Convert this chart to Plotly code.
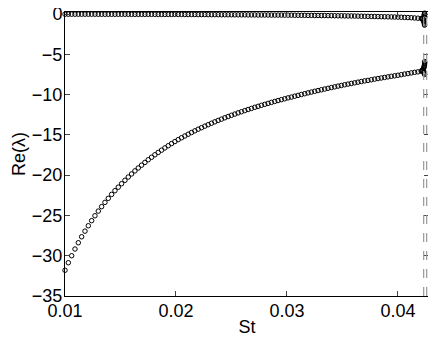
import plotly.graph_objects as go

# Strouhal numbers of the sampled points
st = [
    0.0100, 0.0103, 0.0106, 0.0109, 0.0112, 0.0115, 0.0118, 0.0121, 0.0124, 0.0127,
    0.0130, 0.0133, 0.0136, 0.0139, 0.0142, 0.0145, 0.0148, 0.0151, 0.0154, 0.0157,
    0.0160, 0.0163, 0.0166, 0.0169, 0.0172, 0.0175, 0.0178, 0.0181, 0.0184, 0.0187,
    0.0190, 0.0193, 0.0196, 0.0199, 0.0202, 0.0205, 0.0208, 0.0211, 0.0214, 0.0217,
    0.0220, 0.0223, 0.0226, 0.0229, 0.0232, 0.0235, 0.0238, 0.0241, 0.0244, 0.0247,
    0.0250, 0.0253, 0.0256, 0.0259, 0.0262, 0.0265, 0.0268, 0.0271, 0.0274, 0.0277,
    0.0280, 0.0283, 0.0286, 0.0289, 0.0292, 0.0295, 0.0298, 0.0301, 0.0304, 0.0307,
    0.0310, 0.0313, 0.0316, 0.0319, 0.0322, 0.0325, 0.0328, 0.0331, 0.0334, 0.0337,
    0.0340, 0.0343, 0.0346, 0.0349, 0.0352, 0.0355, 0.0358, 0.0361, 0.0364, 0.0367,
    0.0370, 0.0373, 0.0376, 0.0379, 0.0382, 0.0385, 0.0388, 0.0391, 0.0394, 0.0397,
    0.0400, 0.0403, 0.0406, 0.0409, 0.0412, 0.0415, 0.0418, 0.0421,
]

# least stable branch (lower curve)
re_lower = [
    -31.80, -30.87, -30.00, -29.17, -28.39, -27.65, -26.95, -26.28, -25.65, -25.04,
    -24.46, -23.91, -23.38, -22.88, -22.39, -21.93, -21.49, -21.06, -20.64, -20.23,
    -19.85, -19.47, -19.11, -18.76, -18.42, -18.09, -17.78, -17.47, -17.18, -16.90,
    -16.62, -16.35, -16.08, -15.83, -15.59, -15.36, -15.14, -14.92, -14.71, -14.50,
    -14.30, -14.11, -13.92, -13.74, -13.56, -13.38, -13.21, -13.05, -12.88, -12.72,
    -12.57, -12.42, -12.27, -12.13, -11.99, -11.85, -11.72, -11.58, -11.46, -11.33,
    -11.21, -11.09, -10.97, -10.85, -10.74, -10.63, -10.52, -10.41, -10.31, -10.20,
    -10.10, -9.99, -9.89, -9.79, -9.69, -9.59, -9.50, -9.40, -9.31, -9.22,
    -9.13, -9.04, -8.95, -8.87, -8.78, -8.70, -8.62, -8.54, -8.46, -8.38,
    -8.30, -8.24, -8.16, -8.08, -8.01, -7.94, -7.87, -7.80, -7.73, -7.67,
    -7.60, -7.53, -7.45, -7.39, -7.31, -7.24, -7.18, -7.10,
]

# near-neutral branch (upper curve)
re_upper = [
    -0.02, -0.02, -0.02, -0.02, -0.02, -0.02, -0.02, -0.02, -0.02, -0.02,
    -0.03, -0.03, -0.03, -0.03, -0.03, -0.03, -0.03, -0.03, -0.03, -0.03,
    -0.04, -0.04, -0.04, -0.04, -0.04, -0.04, -0.04, -0.04, -0.05, -0.05,
    -0.05, -0.05, -0.05, -0.05, -0.05, -0.05, -0.06, -0.06, -0.06, -0.06,
    -0.07, -0.07, -0.07, -0.07, -0.08, -0.08, -0.08, -0.09, -0.09, -0.09,
    -0.09, -0.10, -0.10, -0.10, -0.10, -0.11, -0.11, -0.11, -0.12, -0.12,
    -0.12, -0.12, -0.13, -0.13, -0.13, -0.13, -0.14, -0.14, -0.14, -0.15,
    -0.15, -0.16, -0.16, -0.17, -0.17, -0.18, -0.18, -0.19, -0.19, -0.20,
    -0.20, -0.21, -0.22, -0.22, -0.23, -0.24, -0.24, -0.25, -0.26, -0.27,
    -0.28, -0.29, -0.30, -0.31, -0.32, -0.33, -0.34, -0.35, -0.36, -0.37,
    -0.38, -0.40, -0.42, -0.44, -0.46, -0.49, -0.52, -0.55,
]

# dense clusters right before the critical Strouhal number
st_end = [0.04215, 0.04220, 0.04225, 0.04230, 0.04234, 0.04237, 0.04239, 0.04240,
          0.04241, 0.04241, 0.04236, 0.04239, 0.04240]
re_lower_end = [-7.05, -7.00, -6.90, -6.80, -6.65, -6.50, -6.35, -6.20,
                -6.05, -5.90, -7.20, -7.35, -7.50]
re_upper_end = [-0.58, -0.62, -0.70, -0.82, -0.95, -1.10, -1.25, -1.38,
                -0.45, -0.30, -0.15, 0.00, 0.10]

# critical values (dashed lines)
st_crit = [0.04232, 0.04259]

x_ticks = [0.01, 0.02, 0.03, 0.04]
x_labels = ["0.01", "0.02", "0.03", "0.04"]
y_ticks = [0, -5, -10, -15, -20, -25, -30, -35]

FONT = "Liberation Sans, Arial, Helvetica, sans-serif"

marker = dict(symbol="circle-open", size=4.5, color="black", line=dict(width=1, color="black"))

fig = go.Figure()
for ys, ys_end in [(re_upper, re_upper_end), (re_lower, re_lower_end)]:
    fig.add_trace(go.Scatter(x=st + st_end, y=ys + ys_end, mode="markers",
                             marker=marker, showlegend=False, cliponaxis=False))

for sc in st_crit:
    fig.add_shape(type="line", xref="x", yref="paper", x0=sc, x1=sc, y0=0, y1=1,
                  line=dict(color="#999999", width=1.2, dash="dash"))

# the page body adds an 8px margin, so the figure is 8px smaller than the window
fig.update_layout(
    width=428,
    height=333,
    margin=dict(l=57, r=7, t=4, b=45),
    paper_bgcolor="white",
    plot_bgcolor="white",
    font=dict(family=FONT, size=18, color="black"),
)
axis_style = dict(
    ticks="inside",
    ticklen=5,
    tickcolor="#444",
    showline=True,
    linecolor="black",
    linewidth=1,
    mirror="ticks",
    showgrid=False,
    zeroline=False,
    automargin=False,
    ticklabeloverflow="allow",
)
fig.update_xaxes(
    range=[0.01, 0.0428],
    tickvals=x_ticks,
    ticktext=x_labels,
    ticklabelstandoff=-2,
    title=dict(text="St", standoff=0, font=dict(size=18)),
    **axis_style,
)
fig.update_yaxes(
    range=[-35, 0.25],
    tickvals=y_ticks,
    ticklabelstandoff=-2,
    title=dict(text="Re(λ)", standoff=1, font=dict(size=18)),
    **axis_style,
)

fig.write_html("out.html")
